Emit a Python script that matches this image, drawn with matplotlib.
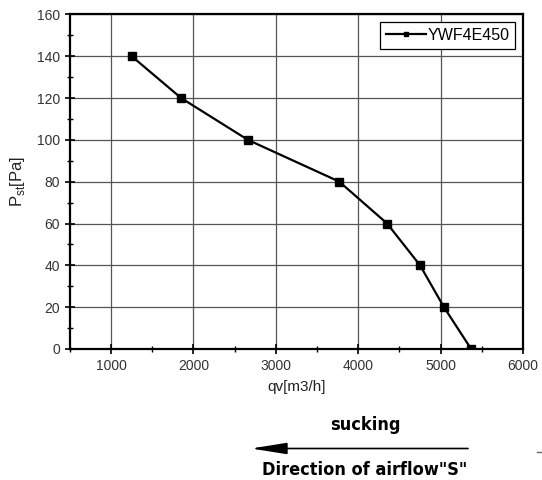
import matplotlib
matplotlib.use('Agg')
import matplotlib.pyplot as plt
from matplotlib.ticker import MultipleLocator
from matplotlib.lines import Line2D

# fan curve
qv = [1250, 1850, 2660, 3770, 4350, 4750, 5040, 5370]
pst = [140, 120, 100, 80, 60, 40, 20, 0]
series_name = 'YWF4E450'

plt.rcParams['font.family'] = ['Liberation Sans', 'DejaVu Sans']
plt.rcParams['font.size'] = 10

fig = plt.figure(figsize=(5.42, 4.8), dpi=100)
ax = fig.add_axes([0.129, 0.273, 0.836, 0.697])

ax.plot(qv, pst, color='black', lw=1.6, marker='s', markersize=5.5,
        label=series_name, zorder=3)

ax.set_xlim(500, 6000)
ax.set_ylim(0, 160)
ax.xaxis.set_major_locator(MultipleLocator(1000))
ax.xaxis.set_minor_locator(MultipleLocator(500))
ax.yaxis.set_major_locator(MultipleLocator(20))
ax.yaxis.set_minor_locator(MultipleLocator(10))
ax.tick_params(which='major', direction='inout', length=7, width=1.2,
               top=False, right=False, labelsize=10, colors='black',
               labelcolor='#333333')
ax.tick_params(which='minor', direction='inout', length=5, width=1.0,
               top=False, right=False)
for s in ax.spines.values():
    s.set_linewidth(1.6)

ax.grid(True, which='major', color='#555555', lw=0.9)
ax.set_axisbelow(True)

ax.set_xlabel('qv[m3/h]', fontsize=11, color='#222222')
ax.xaxis.set_label_coords(0.5, -0.093)
ax.set_ylabel(r'P$_{\mathregular{st}}$[Pa]', fontsize=12, color='#222222')
ax.yaxis.set_label_coords(-0.095, 0.5)

leg = ax.legend(loc='upper right', fancybox=False, framealpha=1,
                edgecolor='black', fontsize=11.5, handlelength=2.5,
                handletextpad=0.1, borderpad=0.35, borderaxespad=0.5,
                markerscale=0.6)
leg.get_frame().set_linewidth(0.9)

# airflow annotation below the chart
fig.text(365/542, 1 - 425/480, 'sucking', ha='center', va='center',
         fontsize=13, fontweight='bold', family='DejaVu Sans',
         stretch='condensed')
fig.text(365/542, 1 - 470/480, 'Direction of airflow"S"', ha='center',
         va='center', fontsize=13, fontweight='bold', family='DejaVu Sans',
         stretch='condensed')
ax.annotate('', xy=(251/542, 1 - 448.5/480), xytext=(468/542, 1 - 448.5/480),
            xycoords='figure fraction', textcoords='figure fraction',
            arrowprops=dict(arrowstyle='-|>,head_length=2.2,head_width=0.35',
                            color='black', lw=1.2, shrinkA=0, shrinkB=0))
fig.add_artist(Line2D([537/542, 542/542], [1 - 452/480, 1 - 452/480],
                      color='#666666', lw=1))

fig.savefig('out.png', dpi=100)
